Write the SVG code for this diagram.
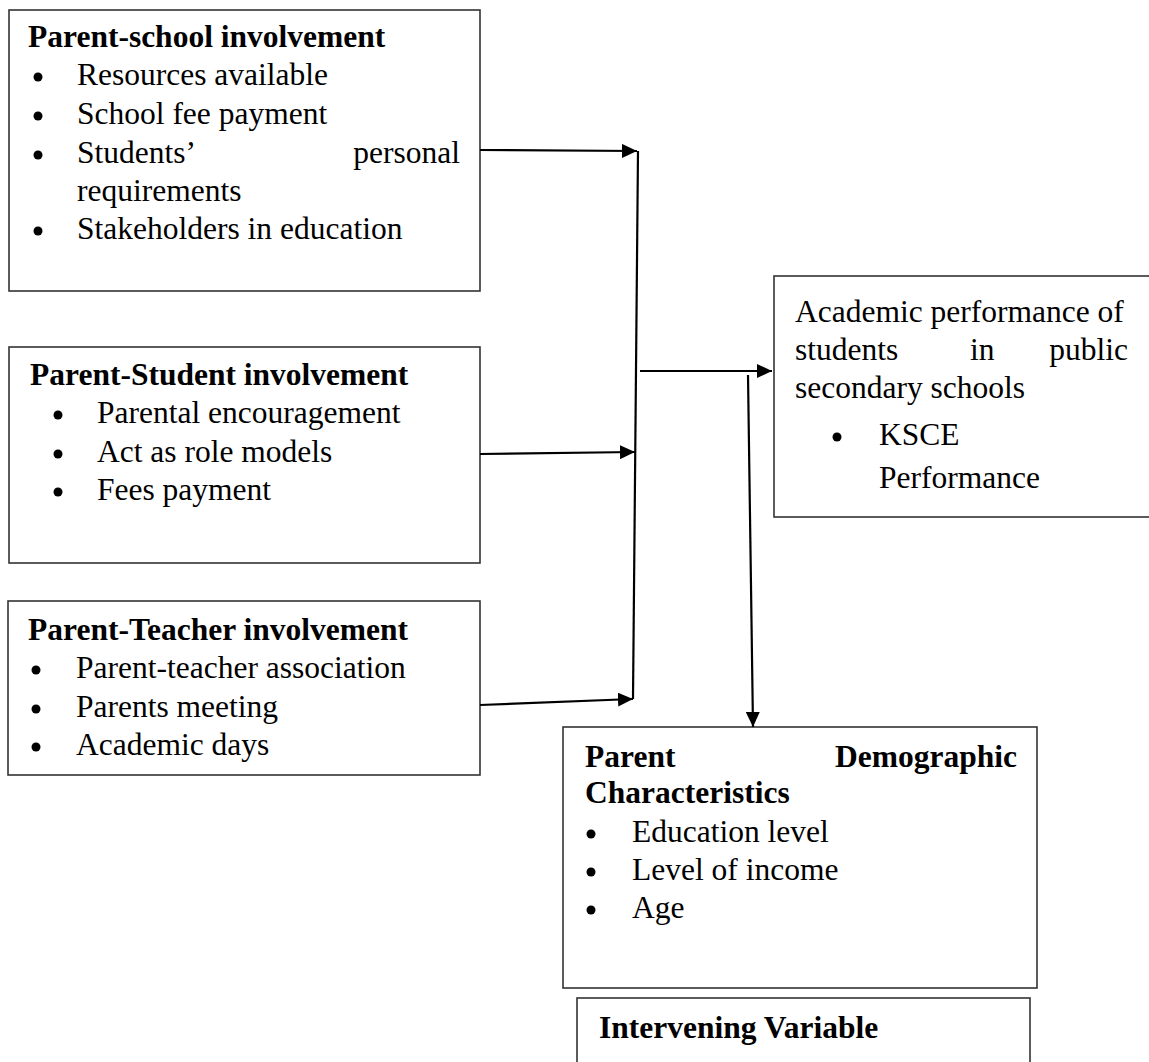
<svg xmlns="http://www.w3.org/2000/svg" width="1149" height="1062" viewBox="0 0 1149 1062">
<style>
.box{fill:#fff;stroke:#333;stroke-width:1.6}
.t{font-family:"Liberation Serif","Times New Roman",serif;font-size:31.5px;fill:#000}
.b{font-weight:bold}
.e{text-anchor:end}
.c{stroke:#000;stroke-width:2.2;fill:none}
</style>
<defs>
<marker id="ah" markerUnits="userSpaceOnUse" markerWidth="15" markerHeight="14" refX="15" refY="7" orient="auto">
<path d="M0,0 L15,7 L0,14 z" fill="#000"/>
</marker>
</defs>
<rect width="1149" height="1062" fill="#fff"/>
<g id="node-parent-school">
<rect class="box" x="9" y="10" width="471" height="281"/>
<text class="t b" x="28" y="47">Parent-school involvement</text>
<circle cx="38" cy="77" r="4.5"/><text class="t" x="77" y="85">Resources available</text>
<circle cx="38" cy="116" r="4.5"/><text class="t" x="77" y="124">School fee payment</text>
<circle cx="38" cy="155" r="4.5"/><text class="t" x="77" y="163">Students’</text><text class="t e" x="460" y="163">personal</text>
<text class="t" x="77" y="201">requirements</text>
<circle cx="38" cy="231" r="4.5"/><text class="t" x="77" y="239">Stakeholders in education</text>
</g>
<g id="node-parent-student">
<rect class="box" x="9" y="347" width="471" height="216"/>
<text class="t b" x="30" y="385">Parent-Student involvement</text>
<circle cx="58" cy="415" r="4.5"/><text class="t" x="97" y="423">Parental encouragement</text>
<circle cx="58" cy="454" r="4.5"/><text class="t" x="97" y="462">Act as role models</text>
<circle cx="58" cy="492" r="4.5"/><text class="t" x="97" y="500">Fees payment</text>
</g>
<g id="node-parent-teacher">
<rect class="box" x="8" y="601" width="472" height="174"/>
<text class="t b" x="28" y="640">Parent-Teacher involvement</text>
<circle cx="36" cy="670" r="4.5"/><text class="t" x="76" y="678">Parent-teacher association</text>
<circle cx="36" cy="709" r="4.5"/><text class="t" x="76" y="717">Parents meeting</text>
<circle cx="36" cy="747" r="4.5"/><text class="t" x="76" y="755">Academic days</text>
</g>
<g id="node-academic">
<rect class="box" x="774" y="276" width="390" height="241"/>
<text class="t" x="795" y="322">Academic performance of</text>
<text class="t" x="795" y="360">students</text><text class="t" x="970" y="360">in</text><text class="t e" x="1128" y="360">public</text>
<text class="t" x="795" y="398">secondary schools</text>
<circle cx="837" cy="437" r="4.5"/><text class="t" x="879" y="445">KSCE</text>
<text class="t" x="879" y="488">Performance</text>
</g>
<g id="node-demographic">
<rect class="box" x="563" y="727" width="474" height="261"/>
<text class="t b" x="585" y="767">Parent</text><text class="t b e" x="1017" y="767">Demographic</text>
<text class="t b" x="585" y="803">Characteristics</text>
<circle cx="591" cy="834" r="4.5"/><text class="t" x="632" y="842">Education level</text>
<circle cx="591" cy="872" r="4.5"/><text class="t" x="632" y="880">Level of income</text>
<circle cx="591" cy="910" r="4.5"/><text class="t" x="632" y="918">Age</text>
</g>
<g id="node-intervening">
<rect class="box" x="577" y="998" width="453" height="80"/>
<text class="t b" x="599" y="1038">Intervening Variable</text>
</g>
<g id="connectors">
<line class="c" x1="480" y1="150" x2="637" y2="151" marker-end="url(#ah)"/>
<line class="c" x1="638" y1="151" x2="633" y2="699"/>
<line class="c" x1="480" y1="454" x2="635" y2="452" marker-end="url(#ah)"/>
<line class="c" x1="480" y1="705" x2="633" y2="699" marker-end="url(#ah)"/>
<line class="c" x1="640" y1="371" x2="772" y2="371" marker-end="url(#ah)"/>
<line class="c" x1="748" y1="375" x2="753" y2="727" marker-end="url(#ah)"/>
</g>
</svg>
